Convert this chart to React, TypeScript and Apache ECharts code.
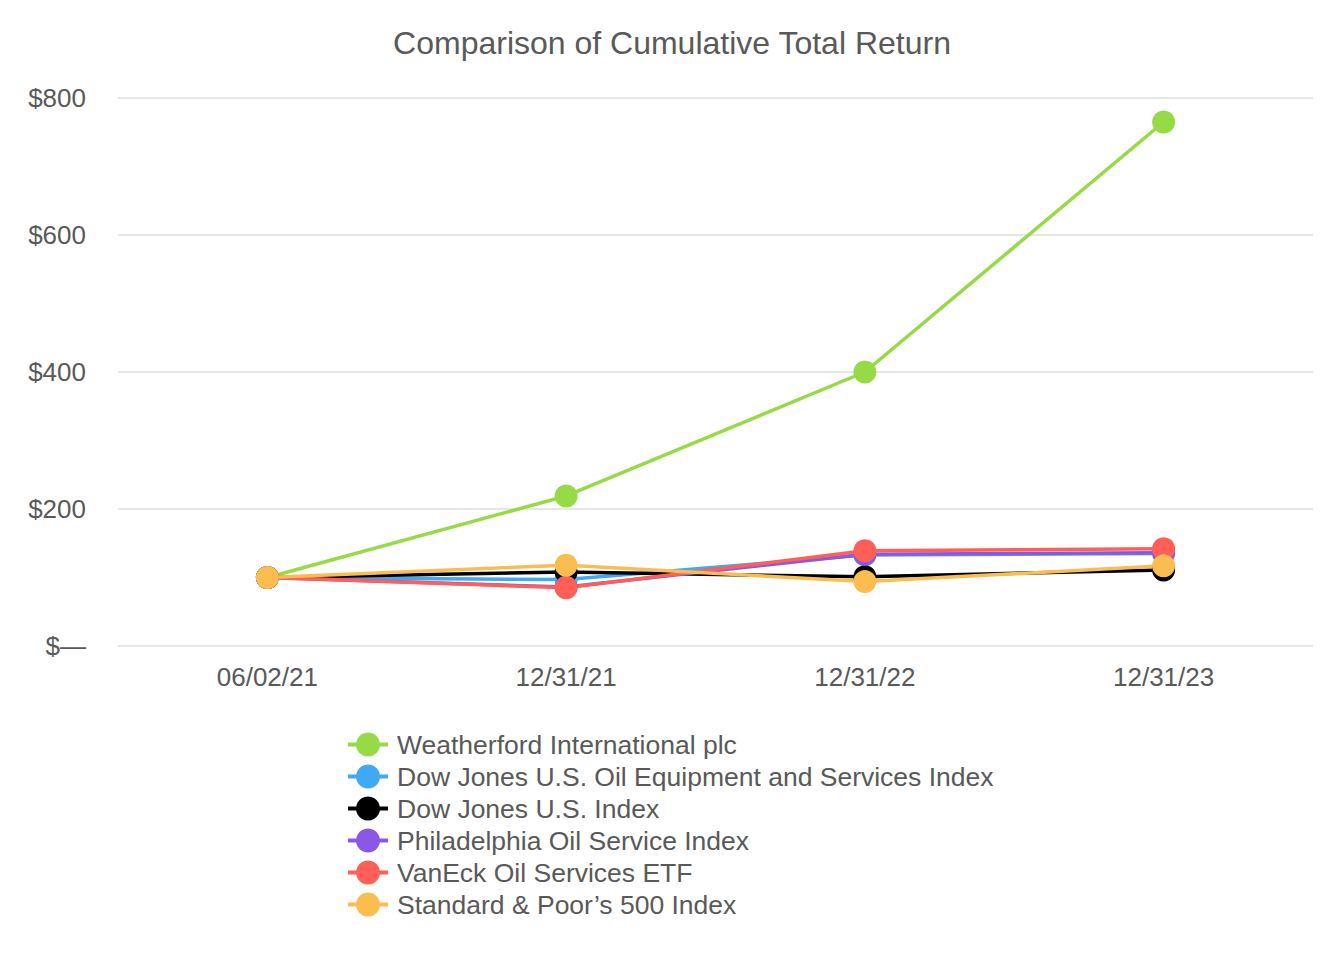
import React, { useEffect, useRef } from "react";
import * as echarts from "echarts";

const categories = ["06/02/21", "12/31/21", "12/31/22", "12/31/23"];
const seriesNames = [
  "Weatherford International plc",
  "Dow Jones U.S. Oil Equipment and Services Index",
  "Dow Jones U.S. Index",
  "Philadelphia Oil Service Index",
  "VanEck Oil Services ETF",
  "Standard & Poor\u2019s 500 Index",
];
const weatherford = [100, 219, 400, 765];
const djOilEquip = [100, 97, 133, 135];
const djUS = [100, 108, 101, 111];
const philOil = [100, 86, 134, 136];
const vanEck = [100, 85, 139, 142];
const sp500 = [100, 118, 94, 117];
const yTicks = [0, 200, 400, 600, 800];
const colors = ["#96da45", "#3fa9f5", "#000000", "#8d57e6", "#ff5f57", "#fbbd4f"];

export default function App() {
  const ref = useRef<HTMLDivElement>(null);
  useEffect(() => {
    const chart = echarts.init(ref.current!, null, { renderer: "svg" });
    const data = [weatherford, djOilEquip, djUS, philOil, vanEck, sp500];
    chart.setOption({
      animation: false,
      title: {
        text: "Comparison of Cumulative Total Return",
        left: "center",
        top: 14,
        textStyle: { fontFamily: "Liberation Sans", fontSize: 32, fontWeight: "normal", color: "#595959" },
      },
      grid: { left: 110, right: 23, top: 90, bottom: 306, containLabel: false },
      xAxis: {
        type: "category",
        data: categories,
        boundaryGap: true,
        axisLine: { show: false },
        axisTick: { show: false },
        axisLabel: { fontFamily: "Liberation Sans", fontSize: 26, color: "#595959", margin: 18 },
      },
      yAxis: {
        type: "value",
        min: yTicks[0],
        max: yTicks[yTicks.length - 1],
        interval: 200,
        axisLine: { show: false },
        axisTick: { show: false },
        splitLine: { lineStyle: { color: "#e6e6e6", width: 2 } },
        axisLabel: {
          fontFamily: "Liberation Sans",
          fontSize: 26,
          color: "#595959",
          margin: 32,
          formatter: (v: number) => (v === 0 ? "$\u2014" : "$" + v),
        },
      },
      legend: {
        orient: "vertical",
        left: 333,
        top: 718,
        itemWidth: 40,
        itemHeight: 30,
        itemGap: 5,
        lineStyle: { width: 4 },
        textStyle: { fontFamily: "Liberation Sans", fontSize: 26.5, color: "#595959", padding: [0, 0, 0, 4] },
        data: seriesNames,
      },
      series: seriesNames.map((name, i) => ({
        name,
        type: "line",
        data: data[i],
        symbol: "circle",
        symbolSize: 23,
        lineStyle: { width: 3.5, color: colors[i] },
        itemStyle: { color: colors[i] },
      })),
    });
    return () => chart.dispose();
  }, []);
  return <div ref={ref} style={{ width: 1328, height: 944 }} />;
}
